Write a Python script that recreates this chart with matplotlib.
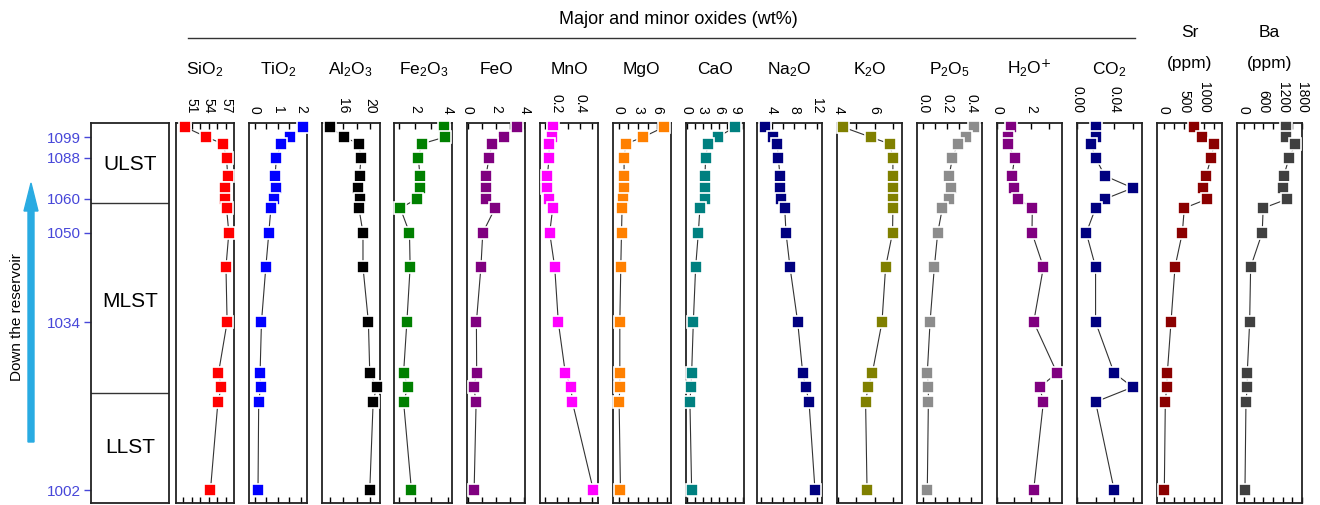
import matplotlib
matplotlib.use("Agg")
import matplotlib.pyplot as plt
from matplotlib.patches import FancyArrow
from matplotlib.transforms import IdentityTransform

plt.rcParams['font.family'] = ['Liberation Sans', 'DejaVu Sans']
plt.rcParams['mathtext.default'] = 'regular'

# relative stratigraphic position of each sample (0 = base, 100 = top)
heights = [98.9, 96.3, 94.5, 90.8, 86.1, 82.9, 80.0, 77.6, 71.1, 62.1, 47.6, 34.2, 30.5, 26.6, 3.4]

depth_labels = ['1099', '1088', '1060', '1050', '1034', '1002']
depth_index = [1, 3, 6, 8, 10, 14]

units = ['ULST', 'MLST', 'LLST']
unit_bounds = [78.9, 28.9]
unit_mid = [89.2, 52.9, 14.5]

sio2 = [49.9, 53.6, 56.5, 57.1, 57.3, 56.9, 56.8, 57.1, 57.5, 57.0, 57.2, 55.7, 56.2, 55.6, 54.3]
tio2 = [2.10, 1.52, 1.14, 0.94, 0.88, 0.91, 0.83, 0.70, 0.61, 0.48, 0.29, 0.23, 0.25, 0.17, 0.14]
al2o3 = [14.0, 16.1, 18.3, 18.6, 18.4, 18.2, 18.5, 18.3, 18.9, 18.9, 19.7, 19.9, 20.9, 20.4, 19.9]
fe2o3 = [3.74, 3.82, 2.40, 2.20, 2.30, 2.30, 2.10, 1.10, 1.66, 1.70, 1.50, 1.30, 1.56, 1.30, 1.78]
feo = [3.45, 2.54, 1.71, 1.49, 1.28, 1.28, 1.28, 1.92, 1.05, 0.92, 0.60, 0.62, 0.41, 0.58, 0.44]
mno = [0.166, 0.158, 0.135, 0.135, 0.120, 0.120, 0.132, 0.166, 0.140, 0.183, 0.214, 0.274, 0.323, 0.334, 0.514]
mgo = [6.99, 3.77, 1.09, 0.82, 0.82, 0.82, 0.67, 0.51, 0.42, 0.31, 0.16, 0.16, 0.16, 0.05, 0.26]
cao = [8.89, 5.80, 3.94, 3.52, 3.39, 3.39, 3.39, 2.46, 2.17, 1.67, 1.24, 0.93, 0.80, 0.61, 0.93]
na2o = [2.77, 4.14, 4.96, 5.14, 5.45, 5.45, 5.63, 6.29, 6.52, 7.23, 8.61, 9.50, 10.04, 10.63, 11.70]
k2o = [4.27, 5.77, 6.83, 7.00, 7.00, 7.00, 7.00, 7.00, 6.98, 6.60, 6.40, 5.87, 5.64, 5.50, 5.58]
p2o5 = [0.424, 0.355, 0.288, 0.243, 0.215, 0.232, 0.218, 0.159, 0.120, 0.092, 0.056, 0.033, 0.042, 0.042, 0.033]
h2o = [0.80, 0.63, 0.63, 1.01, 0.86, 1.00, 1.23, 2.05, 2.03, 2.70, 2.13, 3.50, 2.48, 2.70, 2.13]
co2 = [0.020, 0.020, 0.015, 0.020, 0.030, 0.060, 0.030, 0.020, 0.010, 0.020, 0.020, 0.040, 0.060, 0.020, 0.040]
sr = [758, 958, 1258, 1175, 1050, 983, 1083, 508, 458, 275, 175, 83, 67, 33, 8]
ba = [1296, 1296, 1596, 1399, 1235, 1213, 1349, 596, 565, 207, 176, 102, 102, 62, 31]

# name, values, colour, xlim, labelled ticks, tick labels, minor step
panels = [
    ('SiO$_2$', sio2, 'red', (48.3, 58.4), [51, 54, 57], ['51', '54', '57'], 1.5),
    ('TiO$_2$', tio2, 'blue', (-0.26, 2.26), [0, 1, 2], ['0', '1', '2'], 0.5),
    ('Al$_2$O$_3$', al2o3, 'black', (12.8, 21.35), [16, 20], ['16', '20'], 2),
    ('Fe$_2$O$_3$', fe2o3, '#008000', (0.74, 4.28), [2, 4], ['2', '4'], 1),
    ('FeO', feo, '#800080', (-0.05, 4.05), [0, 2, 4], ['0', '2', '4'], 1),
    ('MnO', mno, 'magenta', (0.057, 0.554), [0.2, 0.4], ['0.2', '0.4'], 0.1),
    ('MgO', mgo, '#ff8000', (-0.93, 8.07), [0, 3, 6], ['0', '3', '6'], 1.5),
    ('CaO', cao, '#008080', (-0.19, 10.55), [0, 3, 6, 9], ['0', '3', '6', '9'], 1.5),
    ('Na$_2$O', na2o, '#000080', (1.34, 12.95), [4, 8, 12], ['4', '8', '12'], 2),
    ('K$_2$O', k2o, '#808000', (3.93, 7.5), [4, 6], ['4', '6'], 1),
    ('P$_2$O$_5$', p2o5, '#8c8c8c', (-0.053, 0.49), [0, 0.2, 0.4], ['0.0', '0.2', '0.4'], 0.1),
    (r'H$_2$O$^{\text{+}}$', h2o, '#800080', (-0.02, 3.79), [0, 2], ['0', '2'], 1),
    ('CO$_2$', co2, '#000080', (0, 0.07), [0, 0.04], ['0.00', '0.04'], 0.02),
    ('Sr\n(ppm)', sr, '#8b0000', (-175, 1450), [0, 500, 1000], ['0', '500', '1000'], 250),
    ('Ba\n(ppm)', ba, '#404040', (-216, 1790), [0, 600, 1200, 1800], ['0', '600', '1200', '1800'], 300),
]

W, H = 1320, 505
fig = plt.figure(figsize=(W / 100, H / 100), dpi=100)

ax_bottom, ax_top = 503, 123
def add_ax(left, width):
    return fig.add_axes([left / W, (H - ax_bottom) / H, width / W, (ax_bottom - ax_top) / H])

def frame(ax):
    for s in ax.spines.values():
        s.set_linewidth(1.3)
        s.set_color('#222222')

# stratigraphic column
ax0 = add_ax(91, 78)
frame(ax0)
ax0.set_ylim(0, 100)
ax0.set_xlim(0, 1)
ax0.set_xticks([])
ax0.set_yticks([heights[i] for i in depth_index])
ax0.set_yticklabels(depth_labels)
ax0.tick_params(axis='y', direction='out', length=5, width=1, color='#4747d9',
                labelcolor='#4747d9', labelsize=11, pad=2)
for b in unit_bounds:
    ax0.axhline(b, color='#333333', lw=1)
for name, y in zip(units, unit_mid):
    ax0.text(0.5, y, name, ha='center', va='center', fontsize=15)

# element panels
for i, (name, vals, col, xlim, ticks, labels, step) in enumerate(panels):
    if i < 8:
        left, width = 176 + 72.8 * i, 58
    else:
        left, width = 757 + 80 * (i - 8), 65
    ax = add_ax(left, width)
    frame(ax)
    ax.plot(vals, heights, '-', color='#333333', lw=0.8, zorder=1)
    ax.plot(vals, heights, 's', ms=8.5, mfc=col, mec='white', mew=1.2, zorder=3, clip_on=False)
    ax.set_ylim(0, 100)
    ax.set_xlim(*xlim)
    ax.set_yticks([])
    ax.set_xticks(ticks)
    ax.set_xticklabels(labels)
    minor = []
    v = ticks[0] - step * 10
    while v <= xlim[1]:
        if v >= xlim[0] and all(abs(v - t) > 1e-9 for t in ticks):
            minor.append(v)
        v += step
    ax.set_xticks(minor, minor=True)
    ax.xaxis.set_ticks_position('both')
    ax.tick_params(axis='x', which='both', direction='in', length=4, width=1,
                   labeltop=True, labelbottom=False, labelsize=10, pad=7)
    for lab in ax.get_xticklabels():
        lab.set_rotation(-90)
    cx = (left + width / 2) / W
    if '\n' in name:
        top_txt, sub = name.split('\n')
        fig.text(cx, (H - 37) / H, top_txt, ha='center', va='baseline', fontsize=12.5)
        fig.text(cx, (H - 68) / H, sub, ha='center', va='baseline', fontsize=12.5)
    else:
        fig.text(cx, (H - 74) / H, name, ha='center', va='baseline', fontsize=12.5)

# group header
fig.text(678 / W, (H - 19) / H, 'Major and minor oxides (wt%)', ha='center', va='center', fontsize=13)
fig.add_artist(plt.Line2D([188 / W, 1135 / W], [(H - 38) / H, (H - 38) / H], color='#333333', lw=1))

# direction arrow
arrow = FancyArrow(31, H - 442, 0, 259, width=6, head_width=14, head_length=28,
                   length_includes_head=True, color='#29abe2', transform=IdentityTransform())
fig.add_artist(arrow)
fig.text(17 / W, (H - 317) / H, 'Down the reservoir', rotation=90, ha='center', va='center', fontsize=11)

fig.savefig('out.png', dpi=100)
